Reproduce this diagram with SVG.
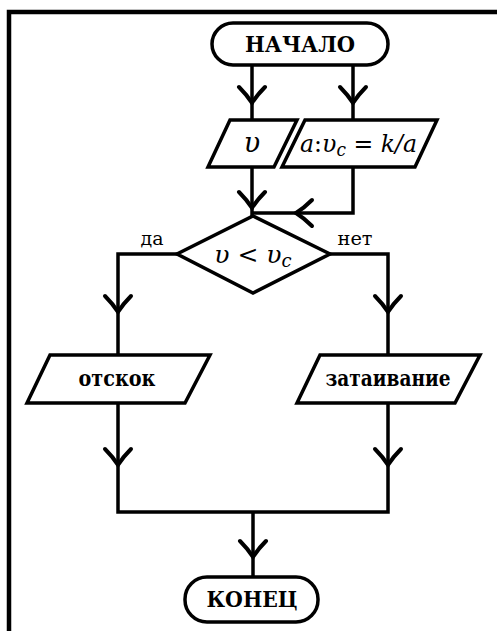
<svg xmlns="http://www.w3.org/2000/svg" xmlns:xlink="http://www.w3.org/1999/xlink" width="497" height="631" viewBox="0 0 497 631">
<style>
.sh{fill:#fff;stroke:#000;stroke-width:3.5;stroke-linejoin:miter}
.ln{fill:none;stroke:#000;stroke-width:3.5}
text{font-family:'DejaVu Serif',serif;fill:#000}
.b{font-weight:bold;text-anchor:middle}
.r{text-anchor:middle}
.m{font-style:italic}
</style>
<defs>
<path id="chev" d="M-13,-16 Q-5,-8 0,0 Q5,-8 13,-16" fill="none" stroke="#000" stroke-width="4" stroke-linecap="round"/>
</defs>
<rect width="497" height="631" fill="#fff"/>
<path d="M9,631 V12 H497" fill="none" stroke="#000" stroke-width="4.5"/>
<g id="connectors">
<path class="ln" d="M252,65 V120"/>
<path class="ln" d="M353,65 V120"/>
<path class="ln" d="M252,167 V216"/>
<path class="ln" d="M353,167 V213 H252"/>
<path class="ln" d="M177,254 H118 V355"/>
<path class="ln" d="M330,254 H388 V355"/>
<path class="ln" d="M118,403 V512 H388 V403"/>
<path class="ln" d="M253,512 V577"/>
<use xlink:href="#chev" transform="translate(252,103)"/>
<use xlink:href="#chev" transform="translate(353,103)"/>
<use xlink:href="#chev" transform="translate(252,208)"/>
<use xlink:href="#chev" transform="translate(296,213) rotate(90)"/>
<use xlink:href="#chev" transform="translate(118,312)"/>
<use xlink:href="#chev" transform="translate(388,312)"/>
<use xlink:href="#chev" transform="translate(118,465)"/>
<use xlink:href="#chev" transform="translate(388,465)"/>
<use xlink:href="#chev" transform="translate(253,557)"/>
<text class="r" x="152" y="245" font-size="18" textLength="23" lengthAdjust="spacingAndGlyphs">да</text>
<text class="r" x="355" y="245" font-size="18" textLength="35" lengthAdjust="spacingAndGlyphs">нет</text>
</g>
<g id="start">
<rect class="sh" x="212" y="23" width="176" height="42" rx="21"/>
<text class="b" x="300" y="52" font-size="22" textLength="110" lengthAdjust="spacingAndGlyphs">НАЧАЛО</text>
</g>
<g id="input-v">
<polygon class="sh" points="230,120 297,120 274,167 208,167"/>
<text class="m" x="252" y="152" font-size="27" text-anchor="middle">υ</text>
</g>
<g id="input-a">
<polygon class="sh" points="305,120 437,120 415,167 282,167"/>
<text class="m" x="300" y="152" font-size="25" textLength="117" lengthAdjust="spacingAndGlyphs">a<tspan font-style="normal">:</tspan>υ<tspan font-size="18" dy="4">c</tspan><tspan dy="-4"> </tspan><tspan font-style="normal">=</tspan> k/a</text>
</g>
<g id="decision">
<polygon class="sh" points="253,216 330,254 253,293 177,254"/>
<text class="m" x="253" y="263" font-size="25" text-anchor="middle">υ <tspan font-style="normal">&lt;</tspan> υ<tspan font-size="18" dy="4">c</tspan></text>
</g>
<g id="bounce">
<polygon class="sh" points="50,355 210,355 185,403 27,403"/>
<text class="b" x="117" y="386" font-size="22" textLength="77" lengthAdjust="spacingAndGlyphs">отскок</text>
</g>
<g id="damping">
<polygon class="sh" points="320,355 480,355 455,403 297,403"/>
<text class="b" x="388" y="386" font-size="22" textLength="125" lengthAdjust="spacingAndGlyphs">затаивание</text>
</g>
<g id="end">
<rect class="sh" x="185" y="577" width="133" height="45" rx="22"/>
<text class="b" x="252" y="607" font-size="22" textLength="91" lengthAdjust="spacingAndGlyphs">КОНЕЦ</text>
</g>
</svg>
